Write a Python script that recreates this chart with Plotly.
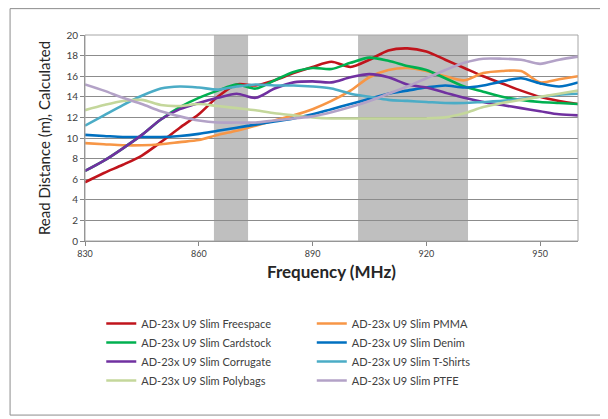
import plotly.graph_objects as go

freq = [830, 835, 840, 845, 850, 855, 860, 865, 870, 875, 880, 885, 890, 895,
        900, 905, 910, 915, 920, 925, 930, 935, 940, 945, 950, 955, 960]

freespace = [5.7, 6.6, 7.4, 8.3, 9.6, 11.0, 12.3, 14.0, 15.2, 15.1, 15.6, 16.3, 16.9, 17.4,
             16.9, 17.6, 18.5, 18.7, 18.4, 17.6, 16.8, 16.0, 15.3, 14.6, 14.0, 13.6, 13.3]
pmma = [9.5, 9.4, 9.3, 9.3, 9.4, 9.6, 9.8, 10.3, 10.7, 11.2, 11.7, 12.2, 12.8, 13.6,
        14.6, 15.9, 16.6, 16.8, 16.5, 16.0, 15.6, 16.3, 16.5, 16.5, 15.4, 15.7, 16.0]
cardstock = [6.8, 7.8, 9.0, 10.3, 11.8, 13.0, 13.9, 14.6, 15.2, 14.8, 15.6, 16.4, 16.8, 16.7,
             17.3, 17.8, 17.5, 17.0, 16.6, 15.8, 15.0, 14.5, 14.0, 13.7, 13.5, 13.4, 13.3]
denim = [10.3, 10.2, 10.1, 10.1, 10.1, 10.2, 10.4, 10.7, 11.0, 11.3, 11.6, 11.9, 12.3, 12.8,
         13.3, 13.8, 14.3, 14.6, 14.9, 15.1, 14.9, 15.1, 15.5, 15.8, 15.3, 15.0, 15.4]
corrugate = [6.8, 7.8, 9.0, 10.3, 11.8, 12.8, 13.4, 13.9, 14.3, 13.9, 14.8, 15.4, 15.5, 15.4,
             15.9, 16.2, 15.9, 15.2, 14.9, 14.4, 13.9, 13.5, 13.2, 12.9, 12.6, 12.3, 12.2]
tshirts = [11.2, 12.2, 13.2, 14.1, 14.8, 15.0, 14.9, 14.7, 15.0, 15.2, 15.1, 15.1, 15.0, 14.8,
           14.3, 14.0, 13.7, 13.6, 13.5, 13.4, 13.4, 13.5, 13.6, 13.8, 14.0, 14.2, 14.3]
polybags = [12.7, 13.2, 13.6, 13.7, 13.2, 13.1, 13.3, 13.1, 12.9, 12.7, 12.4, 12.2, 12.0, 11.9,
            11.9, 11.9, 11.9, 11.9, 11.9, 12.0, 12.4, 13.0, 13.4, 13.7, 14.0, 14.3, 14.6]
ptfe = [15.2, 14.6, 13.9, 13.3, 12.6, 12.1, 11.7, 11.5, 11.5, 11.5, 11.7, 11.9, 12.1, 12.5,
        13.0, 13.6, 14.3, 15.0, 15.8, 16.6, 17.3, 17.7, 17.7, 17.6, 17.2, 17.6, 17.9]

bands = [(864, 873), (902, 931)]
x_ticks = [830, 860, 890, 920, 950]
y_ticks = list(range(0, 21, 2))

series = [
    ("AD-23x U9 Slim Freespace", freespace, "#C0141C", "legend"),
    ("AD-23x U9 Slim PMMA", pmma, "#F79646", "legend2"),
    ("AD-23x U9 Slim Cardstock", cardstock, "#00B050", "legend"),
    ("AD-23x U9 Slim Denim", denim, "#0070C0", "legend2"),
    ("AD-23x U9 Slim Corrugate", corrugate, "#7030A0", "legend"),
    ("AD-23x U9 Slim T-Shirts", tshirts, "#4BACC6", "legend2"),
    ("AD-23x U9 Slim Polybags", polybags, "#C4D79B", "legend"),
    ("AD-23x U9 Slim PTFE", ptfe, "#B3A2C7", "legend2"),
]

fig = go.Figure()
for name, vals, color, lg in series:
    fig.add_trace(go.Scatter(
        x=freq, y=vals, name=name, mode="lines",
        line=dict(color=color, width=2.6, shape="spline", smoothing=0.8),
        legend=lg,
    ))

shapes = []
for a, b in bands:
    shapes.append(dict(type="rect", xref="x", yref="paper", x0=a, x1=b, y0=0, y1=1,
                       fillcolor="#BFBFBF", line=dict(width=0), layer="below"))
# plot area border
shapes.append(dict(type="rect", xref="paper", yref="paper", x0=0, x1=1, y0=0, y1=1,
                   line=dict(color="#A6A6A6", width=1), fillcolor="rgba(0,0,0,0)"))
# chart area border
shapes.append(dict(type="rect", xref="paper", yref="paper", x0=-0.152, x1=1.051, y0=-0.845, y1=1.128,
                   line=dict(color="#8C8C8C", width=1), fillcolor="rgba(0,0,0,0)"))

font_family = "Lato, Open Sans, sans-serif"

fig.update_layout(
    width=600, height=411,
    margin=dict(l=77, r=30, t=27, b=178),
    paper_bgcolor="white", plot_bgcolor="white",
    shapes=shapes,
    font=dict(family=font_family, color="#404040"),
    xaxis=dict(
        range=[830, 960], tickvals=x_ticks, ticks="outside", ticklen=4,
        tickcolor="#868686", showline=True, linecolor="#868686", linewidth=1,
        showgrid=False, zeroline=False,
        tickfont=dict(size=9, color="#404040"),
        title=dict(text="<b>Frequency (MHz)</b>", font=dict(size=17, color="#262626"), standoff=8),
    ),
    yaxis=dict(
        range=[0, 20], tickvals=y_ticks, ticks="outside", ticklen=4,
        tickcolor="#868686", showline=True, linecolor="#868686", linewidth=1,
        showgrid=True, gridcolor="#8C8C8C", gridwidth=1, zeroline=False,
        tickfont=dict(size=10, color="#404040"),
        title=dict(text="Read Distance (m), Calculated", font=dict(size=15, color="#262626"), standoff=12),
    ),
    legend=dict(x=0.033, y=-0.33, xanchor="left", yanchor="top", orientation="v",
                font=dict(size=11, color="#404040"), tracegroupgap=0, itemwidth=30,
                bgcolor="rgba(0,0,0,0)"),
    legend2=dict(x=0.46, y=-0.33, xanchor="left", yanchor="top", orientation="v",
                 font=dict(size=11, color="#404040"), tracegroupgap=0, itemwidth=30,
                 bgcolor="rgba(0,0,0,0)"),
)

fig.write_html("out.html")
